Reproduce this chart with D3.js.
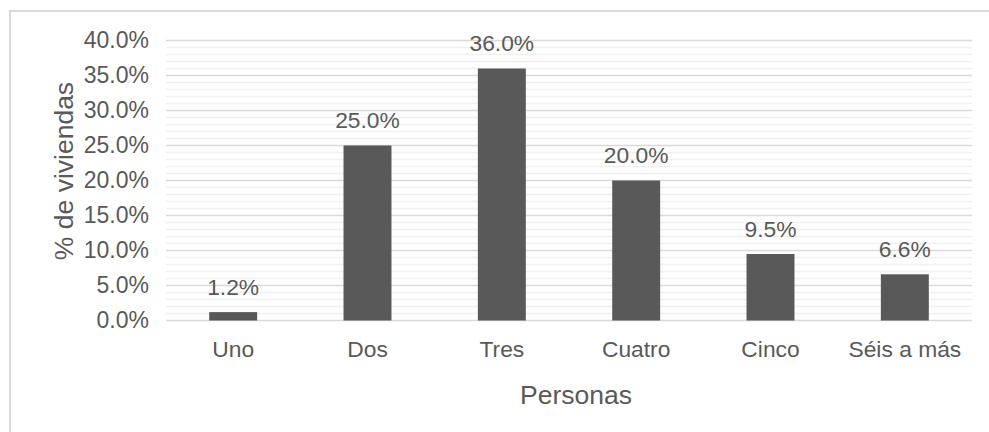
<!DOCTYPE html>
<html>
<head>
<meta charset="utf-8">
<script src="https://cdn.jsdelivr.net/npm/d3@7"></script>
<style>
  html, body { margin: 0; padding: 0; background: #fff; }
  svg { display: block; font-family: "Liberation Sans", Arial, sans-serif; }
</style>
</head>
<body>
<svg id="chart" width="989" height="432"></svg>
<script>
const categories = ["Uno", "Dos", "Tres", "Cuatro", "Cinco", "Séis a más"];
const values = [0.012, 0.25, 0.36, 0.20, 0.095, 0.066];
const yTicks = [0, 0.05, 0.10, 0.15, 0.20, 0.25, 0.30, 0.35, 0.40];
const minorTicks = d3.range(0, 41).map(d => d / 100);
const xTitle = "Personas";
const yTitle = "% de viviendas";

const svg = d3.select("#chart");
const textColor = "#595959";
const FONT = "'Liberation Sans', Arial, sans-serif";

// outer frame
svg.append("rect")
  .attr("x", 10).attr("y", 11)
  .attr("width", 1100).attr("height", 600)
  .attr("fill", "none").attr("stroke", "#d9d9d9").attr("stroke-width", 2);

const x = d3.scaleBand().domain(categories).range([166, 972])
  .paddingInner(0.643).paddingOuter(0.3215);
const y = d3.scaleLinear().domain([0, 0.4]).range([320.5, 40.5]);

// minor grid
svg.append("g").selectAll("line").data(minorTicks.filter(d => Math.round(d * 100) % 5 !== 0))
  .join("line")
  .attr("x1", 166).attr("x2", 972)
  .attr("y1", d => y(d)).attr("y2", d => y(d))
  .attr("stroke", "#f0f0f0").attr("stroke-width", 1.3);

// major grid
svg.append("g").selectAll("line").data(yTicks)
  .join("line")
  .attr("x1", 166).attr("x2", 972)
  .attr("y1", d => y(d)).attr("y2", d => y(d))
  .attr("stroke", "#d9d9d9").attr("stroke-width", 1.3);

// y axis labels
const fmt = d3.format(".1%");
const yAxis = d3.axisLeft(y).tickValues(yTicks).tickFormat(fmt).tickSize(0).tickPadding(0);
const yg = svg.append("g").attr("transform", "translate(149,0)").call(yAxis);
yg.select(".domain").remove();
yg.attr("font-family", FONT);
yg.selectAll("text")
  .attr("fill", textColor).attr("font-size", "23px")
  .attr("dy", "0.31em").attr("x", 0);

// x axis labels
const xAxis = d3.axisBottom(x).tickSize(0).tickPadding(0);
const xg = svg.append("g").attr("transform", "translate(0,357)").call(xAxis);
xg.select(".domain").remove();
xg.attr("font-family", FONT);
xg.selectAll("text")
  .attr("fill", textColor).attr("font-size", "22.8px")
  .attr("dy", "0").attr("y", 0);

// bars
svg.append("g").selectAll("rect").data(values)
  .join("rect")
  .attr("x", (d, i) => x(categories[i]))
  .attr("width", x.bandwidth())
  .attr("y", d => y(d))
  .attr("height", d => y(0) - y(d))
  .attr("fill", "#595959");

// data labels
svg.append("g").selectAll("text").data(values)
  .join("text")
  .attr("x", (d, i) => x(categories[i]) + x.bandwidth() / 2)
  .attr("y", d => y(d) - 17.5)
  .attr("text-anchor", "middle")
  .attr("fill", textColor).attr("font-size", "22.8px")
  .text(d => fmt(d));

// axis titles
svg.append("text")
  .attr("x", 576).attr("y", 404)
  .attr("text-anchor", "middle")
  .attr("fill", textColor).attr("font-size", "26.5px")
  .text(xTitle);

svg.append("text")
  .attr("transform", "translate(73,171) rotate(-90)")
  .attr("text-anchor", "middle")
  .attr("fill", textColor).attr("font-size", "26.5px")
  .text(yTitle);
</script>
</body>
</html>
